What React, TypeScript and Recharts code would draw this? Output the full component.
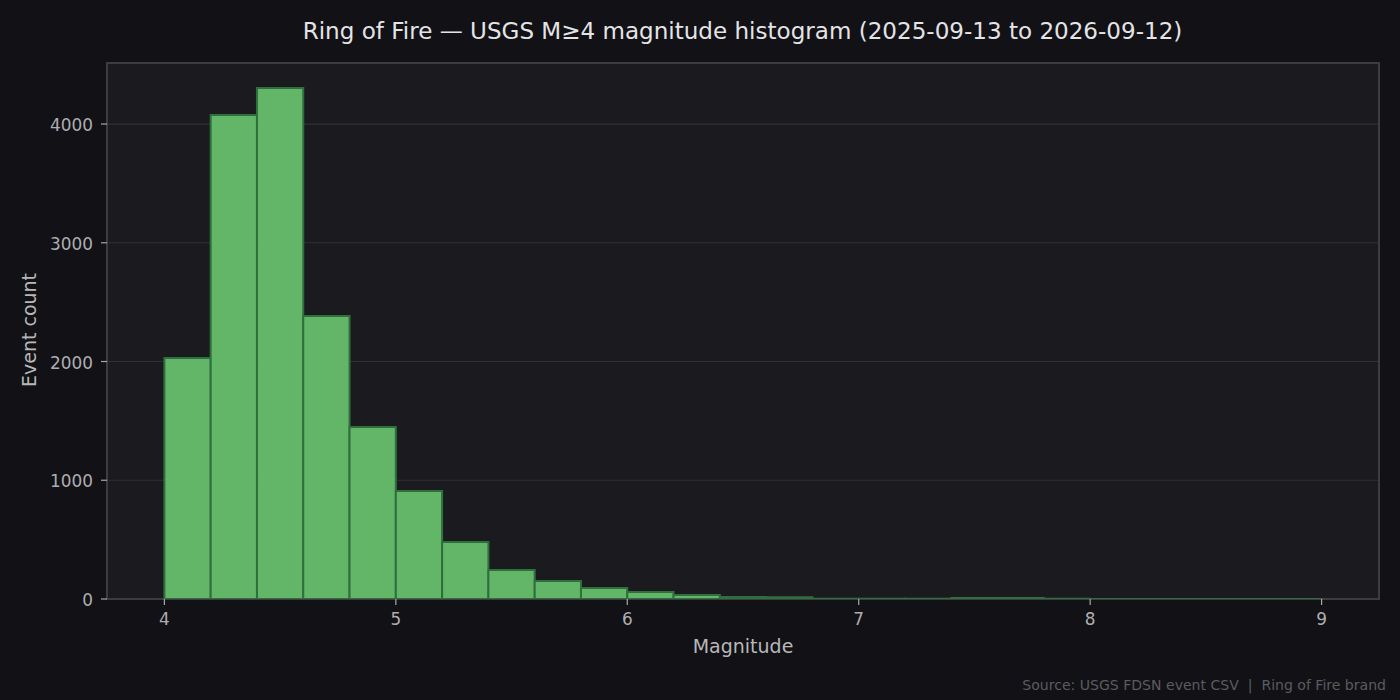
import { BarChart, Bar, XAxis, YAxis, CartesianGrid, ReferenceArea } from "recharts"

// histogram bin centres, 0.2 magnitude wide
const binCenters = [
  4.1, 4.3, 4.5, 4.7, 4.9, 5.1, 5.3, 5.5, 5.7, 5.9, 6.1, 6.3, 6.5,
  6.7, 6.9, 7.1, 7.3, 7.5, 7.7, 7.9, 8.1, 8.3, 8.5, 8.7, 8.9,
]
const eventCounts = [
  2030, 4076, 4303, 2383, 1448, 909, 480, 244, 152, 93, 59, 34, 17,
  15, 3, 3, 2, 8, 8, 2, 1, 1, 1, 1, 1,
]
const xTicks = [4, 5, 6, 7, 8, 9]
const yTicks = [0, 1000, 2000, 3000, 4000]

const chartData = binCenters.map((center, i) => ({ center, count: eventCounts[i] }))

const FONT = "'DejaVu Sans', sans-serif"
const tickStyle = { fill: "#aeaeb0", fontSize: 16.9, fontFamily: FONT }
const X_MIN = 3.752
const X_MAX = 9.248
const Y_MAX = 4514

export default function App() {
  return (
    <div style={{ position: "absolute", left: 0, top: 0, width: 1400, height: 700, background: "#111116", overflow: "hidden" }}>
      <div
        style={{
          position: "absolute", left: 0, width: 1485, top: 17, textAlign: "center",
          color: "#e4e4e6", fontFamily: FONT, fontSize: 23.05, lineHeight: "28px", whiteSpace: "nowrap",
        }}
      >
        Ring of Fire — USGS M≥4 magnitude histogram (2025-09-13 to 2026-09-12)
      </div>
      <BarChart
        width={1400}
        height={700}
        data={chartData}
        margin={{ top: 63, right: 21, bottom: 61, left: 0 }}
        barCategoryGap={0}
        style={{ position: "absolute", left: 0, top: 0 }}
      >
        <CartesianGrid vertical={false} stroke="#313136" strokeWidth={1.2} fill="#1b1b1f" />
        <XAxis
          dataKey="center"
          type="number"
          domain={[X_MIN, X_MAX]}
          ticks={xTicks}
          allowDataOverflow
          tick={tickStyle}
          tickMargin={8}
          tickSize={6}
          tickLine={{ stroke: "#a8a8ac", strokeWidth: 1.2 }}
          axisLine={false}
          height={40}
          label={{ value: "Magnitude", position: "insideBottom", offset: -14, fill: "#b8b8b8", fontSize: 19, fontFamily: FONT }}
        />
        <YAxis
          type="number"
          domain={[0, Y_MAX]}
          ticks={yTicks}
          allowDataOverflow
          tick={{ ...tickStyle, dy: 1 }}
          tickMargin={8}
          tickSize={6}
          tickLine={{ stroke: "#a8a8ac", strokeWidth: 1.2 }}
          axisLine={false}
          width={107}
          label={{ value: "Event count", angle: -90, position: "insideLeft", offset: 29, dy: 56, fill: "#b8b8b8", fontSize: 19, fontFamily: FONT }}
        />
        <Bar
          dataKey="count"
          barSize={46.28}
          fill="#66bb6a"
          fillOpacity={0.97}
          stroke="#2f6f3e"
          strokeWidth={2}
          isAnimationActive={false}
        />
        <ReferenceArea x1={X_MIN} x2={X_MAX} y1={0} y2={Y_MAX} fill="none" stroke="#3c3c42" strokeWidth={2} ifOverflow="visible" />
      </BarChart>
      <div
        style={{
          position: "absolute", right: 14, top: 676, color: "#5c5c5e", fontFamily: FONT,
          fontSize: 14.05, lineHeight: "18px", whiteSpace: "pre",
        }}
      >
        {"Source: USGS FDSN event CSV  |  Ring of Fire brand"}
      </div>
    </div>
  )
}
